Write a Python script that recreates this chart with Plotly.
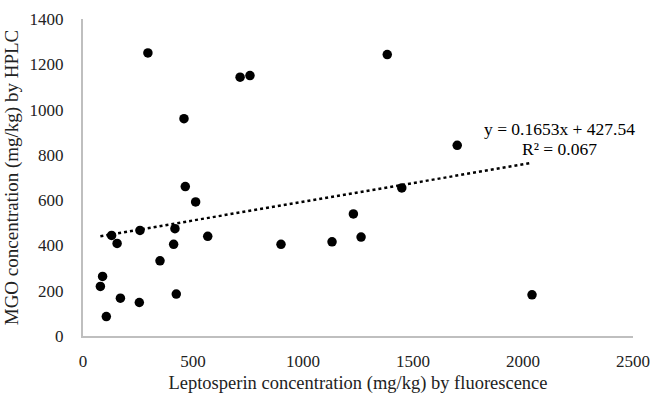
import plotly.graph_objects as go
import numpy as np

leptosperin = [295, 714, 759, 1383, 459, 465, 512, 1229, 1701, 1449, 1264, 2041,
               130, 155, 259, 418, 412, 567, 350, 900, 1132, 89, 79, 170, 256, 106, 424]
mgo = [1250, 1143, 1150, 1243, 960, 660, 592, 539, 842, 654, 437, 182,
       444, 409, 466, 474, 405, 440, 332, 405, 416, 263, 219, 167, 148, 86, 185]

slope = 0.1653
intercept = 427.54
eq_line = "y = 0.1653x + 427.54"
r2_line = "R² = 0.067"

x_ticks = [0, 500, 1000, 1500, 2000, 2500]
y_ticks = [0, 200, 400, 600, 800, 1000, 1200, 1400]

font_family = "Liberation Serif, Times New Roman, serif"

tx = np.array([min(leptosperin), max(leptosperin)])
ty = slope * tx + intercept

fig = go.Figure()
fig.add_trace(go.Scatter(x=tx, y=ty, mode="lines",
                         line=dict(color="black", width=2.5, dash="dot"),
                         showlegend=False, hoverinfo="skip"))
fig.add_trace(go.Scatter(x=leptosperin, y=mgo, mode="markers",
                         marker=dict(color="black", size=9.5),
                         showlegend=False))

fig.add_annotation(x=2164, y=913, text=eq_line, showarrow=False,
                   xanchor="center", yanchor="middle",
                   font=dict(family=font_family, size=17.5, color="black"))
fig.add_annotation(x=2164, y=828, text=r2_line, showarrow=False,
                   xanchor="center", yanchor="middle",
                   font=dict(family=font_family, size=17.5, color="black"))

fig.update_layout(
    width=653, height=394,
    margin=dict(l=83, r=20, t=19, b=58),
    plot_bgcolor="white", paper_bgcolor="white",
    font=dict(family=font_family, size=17, color="black"),
    xaxis=dict(range=[0, 2500], tickvals=x_ticks, showgrid=False, zeroline=False,
               showline=True, linecolor="#bfbfbf", linewidth=2,
               ticks="", ticklabelstandoff=9, automargin=False,
               tickfont=dict(family=font_family, size=17, color="#222"),
               title=dict(text="Leptosperin concentration (mg/kg) by fluorescence",
                          font=dict(family=font_family, size=18.5, color="#222"),
                          standoff=12)),
    yaxis=dict(range=[0, 1400], tickvals=y_ticks, showgrid=False, zeroline=False,
               showline=True, linecolor="#bfbfbf", linewidth=2,
               ticks="", ticklabelstandoff=14, automargin=False,
               tickfont=dict(family=font_family, size=17, color="#222"),
               title=dict(text="MGO concentration (mg/kg) by HPLC",
                          font=dict(family=font_family, size=19, color="#222"),
                          standoff=6)),
)

fig.write_html("out.html")
